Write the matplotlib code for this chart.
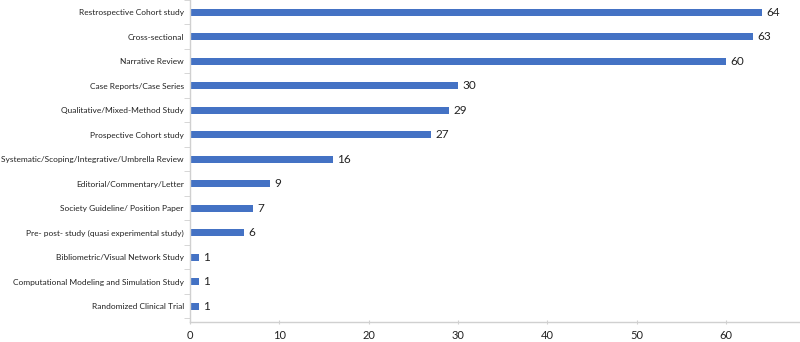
import numpy as np
import matplotlib.pyplot as plt

categories = ['Restrospective Cohort study', 'Cross-sectional', 'Narrative Review',
              'Case Reports/Case Series', 'Qualitative/Mixed-Method Study',
              'Prospective Cohort study', 'Systematic/Scoping/Integrative/Umbrella Review',
              'Editorial/Commentary/Letter', 'Society Guideline/ Position Paper',
              'Pre- post- study (quasi experimental study)', 'Bibliometric/Visual Network Study',
              'Computational Modeling and Simulation Study', 'Randomized Clinical Trial']
counts = [64, 63, 60, 30, 29, 27, 16, 9, 7, 6, 1, 1, 1]
xticks = [0, 10, 20, 30, 40, 50, 60]

plt.rcParams['font.family'] = ['Lato', 'DejaVu Sans']

fig = plt.figure(figsize=(8, 3.42), dpi=100)
ax = fig.add_axes([0.2375, 0.0585, 0.7625, 0.9415])

y = np.arange(len(categories))
ax.barh(y, counts, height=0.28, color='#4472C4')
for yi, v in zip(y, counts):
    ax.text(v + 0.5, yi, str(v), va='center', ha='left', fontsize=8.5, color='#222222')

ax.set_ylim(12.65, -0.36)
ax.set_xlim(0, 68.3)
ax.set_yticks(y)
ax.set_yticklabels(categories, fontsize=6.0, color='#222222')
ax.set_yticks(np.arange(-0.5, len(categories), 1), minor=True)
ax.tick_params(axis='y', which='major', length=0, pad=4.5)
ax.tick_params(axis='y', which='minor', length=4, color='#d0d0d0', direction='out')
ax.set_xticks(xticks)
ax.set_xticklabels([str(t) for t in xticks], fontsize=8, color='#222222')
ax.tick_params(axis='x', length=3, color='#d0d0d0', direction='inout', pad=4)

for s in ['top', 'right']:
    ax.spines[s].set_visible(False)
for s in ['left', 'bottom']:
    ax.spines[s].set_color('#d0d0d0')
    ax.spines[s].set_linewidth(1)

fig.savefig('out.png', dpi=100)
